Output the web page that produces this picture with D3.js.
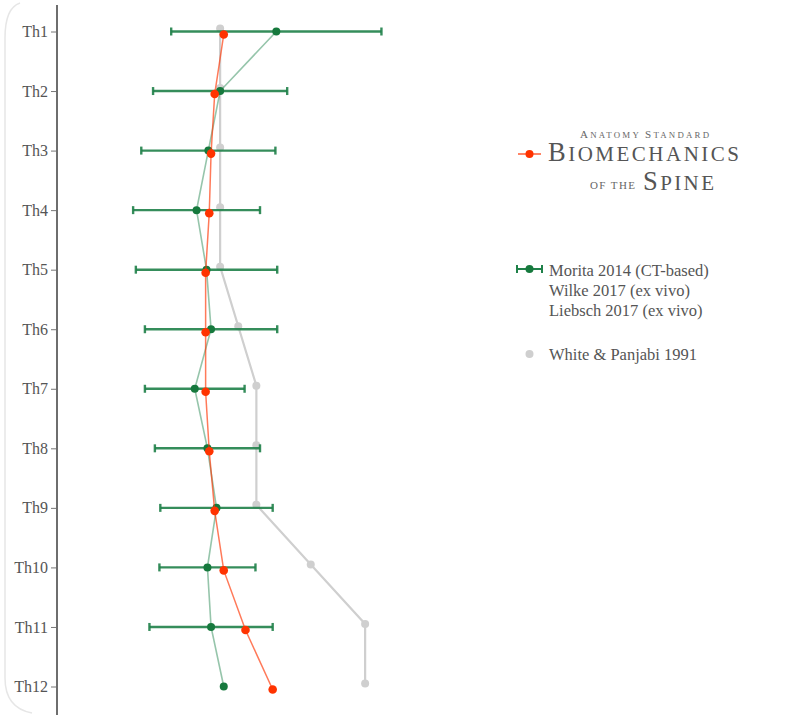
<!DOCTYPE html>
<html>
<head>
<meta charset="utf-8">
<script src="https://cdn.jsdelivr.net/npm/d3@7/dist/d3.min.js"></script>
<style>
  html, body { margin: 0; padding: 0; background: #fff; }
  svg { display: block; }
  text { font-family: "Liberation Serif", "DejaVu Serif", serif; }
</style>
</head>
<body>
<svg id="chart" width="807" height="715"></svg>
<script>
// Thoracic segments (cranial to caudal)
const levels = ["Th1", "Th2", "Th3", "Th4", "Th5", "Th6", "Th7", "Th8", "Th9", "Th10", "Th11", "Th12"];

// Flexion/extension range of motion per segment (degrees)
const whitePanjabi1991 = [4, 4, 4, 4, 4, 5, 6, 6, 6, 9, 12, 12];
const morita2014Mean   = [7.1, 4.0, 3.35, 2.7, 3.25, 3.5, 2.6, 3.3, 3.8, 3.3, 3.5, 4.2];
const morita2014SD     = [5.8, 3.7, 3.7, 3.5, 3.9, 3.65, 2.75, 2.9, 3.1, 2.65, 3.4, null];
const wilkeLiebsch2017 = [4.2, 3.7, 3.5, 3.4, 3.2, 3.2, 3.2, 3.4, 3.7, 4.2, 5.4, 6.9];

// Legend entries
const legendMorita = ["Morita 2014 (CT-based)", "Wilke 2017 (ex vivo)", "Liebsch 2017 (ex vivo)"];
const legendWhite = "White & Panjabi 1991";

const svg = d3.select("#chart");

const x = d3.scaleLinear().domain([-5, 35]).range([57, 782]);
const y = d3.scalePoint().domain(levels).range([31.5, 686.5]);

const GREEN_DOT = "#16793d";
const GREEN_BAR = "#1f8149";
const GREEN_LINE = "rgba(46,139,87,0.5)";
const RED = "#ff3300";
const GRAY = "#cfcfcf";

// Card outline on the left side
svg.append("path")
  .attr("d", "M20,3 Q5,8 5,38 L5,678 Q5,708 32,713")
  .attr("fill", "none")
  .attr("stroke", "#e6e6e6")
  .attr("stroke-width", 1.5);

// Vertical axis
const yAxis = svg.append("g")
  .attr("transform", "translate(57,0)")
  .call(d3.axisLeft(y).tickSize(6).tickPadding(3));
yAxis.select(".domain").remove();
yAxis.selectAll(".tick line").attr("stroke", "#777").attr("stroke-width", 1);
yAxis.selectAll(".tick text")
  .attr("fill", "#555")
  .style("font-family", "'Liberation Serif', serif")
  .style("font-size", "16px");
svg.append("line")
  .attr("x1", 57).attr("x2", 57)
  .attr("y1", 5).attr("y2", 715)
  .attr("stroke", "#6e6e6e")
  .attr("stroke-width", 2);

const idx = d3.range(levels.length);

// White & Panjabi 1991 (gray, shifted slightly up)
const gOff = -3, rOff = 3;
svg.append("path")
  .datum(idx)
  .attr("fill", "none")
  .attr("stroke", GRAY)
  .attr("stroke-width", 2.2)
  .attr("d", d3.line().x(i => x(whitePanjabi1991[i])).y(i => y(levels[i]) + gOff));
svg.append("g").selectAll("circle")
  .data(idx).join("circle")
  .attr("cx", i => x(whitePanjabi1991[i]))
  .attr("cy", i => y(levels[i]) + gOff)
  .attr("r", 4)
  .attr("fill", GRAY);

// Morita 2014 error bars (mean ± SD)
const bars = svg.append("g")
  .selectAll("g")
  .data(idx.filter(i => morita2014SD[i] != null))
  .join("g")
  .attr("stroke", GREEN_BAR)
  .attr("stroke-opacity", 0.9)
  .attr("stroke-width", 2.4);
bars.append("line")
  .attr("x1", i => x(morita2014Mean[i] - morita2014SD[i]))
  .attr("x2", i => x(morita2014Mean[i] + morita2014SD[i]))
  .attr("y1", i => y(levels[i]))
  .attr("y2", i => y(levels[i]));
bars.append("line")
  .attr("x1", i => x(morita2014Mean[i] - morita2014SD[i]))
  .attr("x2", i => x(morita2014Mean[i] - morita2014SD[i]))
  .attr("y1", i => y(levels[i]) - 4)
  .attr("y2", i => y(levels[i]) + 4);
bars.append("line")
  .attr("x1", i => x(morita2014Mean[i] + morita2014SD[i]))
  .attr("x2", i => x(morita2014Mean[i] + morita2014SD[i]))
  .attr("y1", i => y(levels[i]) - 4)
  .attr("y2", i => y(levels[i]) + 4);

// Morita 2014 mean line and points
svg.append("path")
  .datum(idx)
  .attr("fill", "none")
  .attr("stroke", GREEN_LINE)
  .attr("stroke-width", 1.6)
  .attr("d", d3.line().x(i => x(morita2014Mean[i])).y(i => y(levels[i])));
svg.append("g").selectAll("circle")
  .data(idx).join("circle")
  .attr("cx", i => x(morita2014Mean[i]))
  .attr("cy", i => y(levels[i]))
  .attr("r", 4)
  .attr("fill", GREEN_DOT);

// Wilke / Liebsch 2017 (red, shifted slightly down)
svg.append("path")
  .datum(idx)
  .attr("fill", "none")
  .attr("stroke", RED)
  .attr("stroke-opacity", 0.65)
  .attr("stroke-width", 1.5)
  .attr("d", d3.line().x(i => x(wilkeLiebsch2017[i])).y(i => y(levels[i]) + rOff));
svg.append("g").selectAll("circle")
  .data(idx).join("circle")
  .attr("cx", i => x(wilkeLiebsch2017[i]))
  .attr("cy", i => y(levels[i]) + rOff)
  .attr("r", 4.3)
  .attr("fill", RED);

// Title block with red series key
const title = svg.append("g").attr("fill", "#555");
title.append("line")
  .attr("x1", 518).attr("x2", 541).attr("y1", 154).attr("y2", 154)
  .attr("stroke", RED).attr("stroke-opacity", 0.8).attr("stroke-width", 1.5);
title.append("circle").attr("cx", 529.5).attr("cy", 154).attr("r", 4).attr("fill", RED);

function smallCaps(sel, parts, xPos, yPos, big, small, len) {
  const t = sel.append("text").attr("x", xPos).attr("y", yPos)
    .attr("textLength", len).attr("lengthAdjust", "spacing");
  parts.forEach(p => {
    t.append("tspan").style("font-size", (p.big ? big : small) + "px").text(p.t);
  });
  return t;
}
smallCaps(title, [{t: "A", big: true}, {t: "NATOMY ", big: false}, {t: "S", big: true}, {t: "TANDARD", big: false}],
  580, 137.5, 11, 8.8, 129).attr("fill", "#666");
smallCaps(title, [{t: "B", big: true}, {t: "IOMECHANICS", big: false}],
  548, 161, 26.5, 21, 191);
smallCaps(title, [{t: "OF THE", big: false}],
  590, 189, 11, 11, 45).attr("fill", "#666");
smallCaps(title, [{t: "S", big: true}, {t: "PINE", big: false}],
  643, 190, 26.5, 21, 71);

// Legend
const legend = svg.append("g");
legend.append("line")
  .attr("x1", 517).attr("x2", 542).attr("y1", 269).attr("y2", 269)
  .attr("stroke", GREEN_BAR).attr("stroke-width", 2);
[517, 542].forEach(cx => legend.append("line")
  .attr("x1", cx).attr("x2", cx).attr("y1", 265).attr("y2", 273)
  .attr("stroke", GREEN_BAR).attr("stroke-width", 2));
legend.append("circle").attr("cx", 529.5).attr("cy", 269).attr("r", 4).attr("fill", GREEN_DOT);
legend.selectAll("text.m")
  .data(legendMorita).join("text")
  .attr("class", "m")
  .attr("x", 549)
  .attr("y", (d, i) => 276 + i * 20)
  .attr("fill", "#555")
  .style("font-size", "16.5px")
  .text(d => d);
legend.append("circle").attr("cx", 529.5).attr("cy", 354).attr("r", 4).attr("fill", GRAY);
legend.append("text")
  .attr("x", 549).attr("y", 360)
  .attr("fill", "#555")
  .style("font-size", "16.5px")
  .text(legendWhite);
</script>
</body>
</html>
